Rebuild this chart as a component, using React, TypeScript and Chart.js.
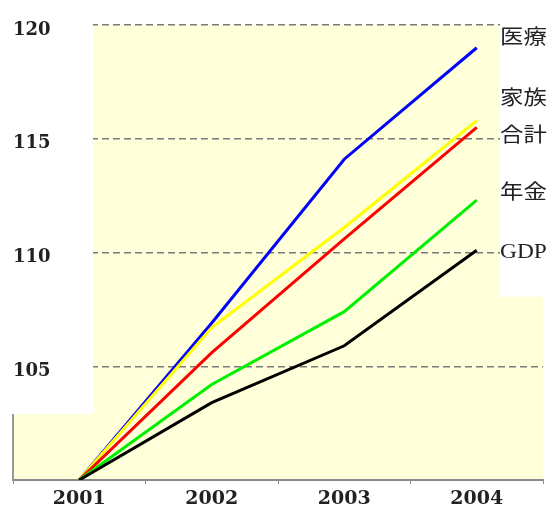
import { useEffect, useRef } from "react";
import { Chart, registerables } from "chart.js";

Chart.register(...registerables);

// Index values (2001 = 100)
const years = ["2001", "2002", "2003", "2004"];
const iryo = [100, 106.9, 114.1, 119.0];
const kazoku = [100, 106.7, 111.1, 115.8];
const goukei = [100, 105.6, 110.6, 115.5];
const nenkin = [100, 104.2, 107.4, 112.3];
const gdp = [100, 103.4, 105.9, 110.1];

const seriesNames = ["医療", "家族", "合計", "年金", "GDP"];
const seriesColors = ["#0000FF", "#FFFF00", "#FF0000", "#00F000", "#000000"];

const yMin = 100;
const yMax = 120;
const yStep = 5;

// Height (in index units) at which each series name sits on the right
const nameLevels = [119.5, 116.8, 115.2, 112.7, 110.0];

const panelPlugin = {
  id: "panels",
  beforeDraw(chart: any) {
    const { ctx, chartArea: a } = chart;
    ctx.save();
    ctx.fillStyle = "#FFFFD9";
    ctx.fillRect(a.left, a.top, a.right - a.left, a.bottom - a.top);
    ctx.restore();
  },
  beforeDatasetsDraw(chart: any) {
    const { ctx, chartArea: a } = chart;
    const y = chart.scales.y;
    ctx.save();
    ctx.fillStyle = "#FFFFFF";
    // blank strip behind the value labels
    ctx.fillRect(0, 0, a.left + 80, y.getPixelForValue(102.9));
    // blank strip behind the series names
    ctx.fillRect(a.right - 43, 0, chart.width - (a.right - 43), y.getPixelForValue(108.05));
    ctx.restore();
  },
  afterDraw(chart: any) {
    const { ctx, chartArea: a } = chart;
    const y = chart.scales.y;
    ctx.save();
    ctx.fillStyle = "#222222";
    ctx.textBaseline = "middle";
    ctx.textAlign = "left";
    seriesNames.forEach((name, i) => {
      const py = y.getPixelForValue(nameLevels[i]);
      ctx.save();
      ctx.translate(a.right - 43, py);
      ctx.scale(1.17, 1);
      ctx.font = name === "GDP" ? "20px 'Liberation Serif'" : "20px 'Noto Sans CJK JP'";
      ctx.fillText(name, 0, 0);
      ctx.restore();
    });
    ctx.restore();
  },
};

export default function App() {
  const ref = useRef<HTMLCanvasElement | null>(null);

  useEffect(() => {
    if (!ref.current) return;
    const series = [iryo, kazoku, goukei, nenkin, gdp];
    const chart = new Chart(ref.current, {
      type: "line",
      data: {
        labels: years,
        datasets: series.map((values, i) => ({
          label: seriesNames[i],
          data: values,
          borderColor: seriesColors[i],
          backgroundColor: seriesColors[i],
          borderWidth: 3,
          pointRadius: 0,
          tension: 0,
          order: 5 - i,
        })),
      },
      options: {
        animation: false,
        responsive: false,
        layout: { padding: { left: 13, right: 10, top: 25, bottom: -8 } },
        plugins: {
          legend: { display: false },
          tooltip: { enabled: false },
        },
        scales: {
          x: {
            offset: true,
            grid: {
              offset: true,
              drawOnChartArea: false,
              drawTicks: true,
              tickLength: 4,
              color: "#8A8A8A",
            },
            border: { color: "#8A8A8A", width: 2 },
            ticks: {
              color: "#222222",
              padding: 6,
              font: { family: "'DejaVu Serif'", size: 19, weight: "bold", lineHeight: 1 },
            },
          },
          y: {
            min: yMin,
            max: yMax,
            grid: {
              drawTicks: false,
              lineWidth: 1.5,
              color: (c: any) => (c.tick && c.tick.value === yMin ? "rgba(0,0,0,0)" : "#7A7A7A"),
            },
            border: { color: "#999999", width: 2, dash: [7, 4] },
            ticks: {
              stepSize: yStep,
              mirror: true,
              padding: 0,
              labelOffset: 5,
              z: 1,
              color: "#222222",
              font: { family: "'DejaVu Serif'", size: 18, weight: "bold" },
              callback: (v: any) => (v === yMin ? "" : String(v)),
            },
          },
        },
      },
      plugins: [panelPlugin],
    });
    return () => chart.destroy();
  }, []);

  return (
    <div style={{ position: "absolute", left: 0, top: 0, width: 553, height: 507, background: "#fff" }}>
      <canvas ref={ref} width={553} height={507} />
    </div>
  );
}
